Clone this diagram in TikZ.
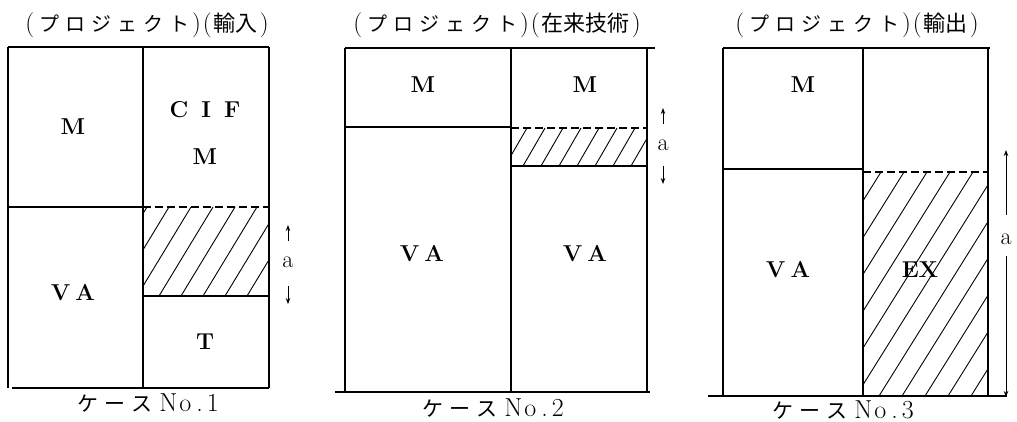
\documentclass[tikz,border=0pt]{standalone}
\usepackage{fontspec}
\newfontfamily\jp{Noto Sans CJK JP}
\usetikzlibrary{arrows.meta}
\begin{document}
\begin{tikzpicture}[x=1pt,y=-1pt,line width=1.1pt,
  lbl/.style={font=\fontsize{23}{26}\selectfont\bfseries,inner sep=0pt},
  small/.style={font=\fontsize{24}{26}\selectfont,inner sep=0pt},
  ttl/.style={inner sep=0pt},
  capt/.style={inner sep=0pt},
  hatch/.style={line width=0.9pt},
  divd/.style={dash pattern=on 8pt off 4pt},
  dim/.style={line width=0.9pt,-{Stealth[length=6pt,width=4.5pt]}}]
\useasboundingbox (0,0) rectangle (1017,422);
\newcommand{\casecap}[1]{{\jp\fontsize{21}{24}\selectfont ケ\kern6pt ー\kern6pt ス}\hspace{7pt}{\rmfamily\fontsize{26}{28}\selectfont N\kern2pt o\kern5pt .\kern4pt #1}}
\newcommand{\pl}{{\rmfamily\fontsize{25}{27}\selectfont(}}
\newcommand{\pr}{{\rmfamily\fontsize{25}{27}\selectfont)}}
\newcommand{\proj}{\pl\kern5pt{\jp\fontsize{20}{24}\selectfont プ\kern6pt ロ\kern6pt ジ\kern6pt ェ\kern6pt ク\kern6pt ト}\kern3pt\pr\kern2pt\pl\kern2pt}
\newcommand{\kj}[1]{{\jp\fontsize{22}{26}\selectfont #1}}

% ---------- titles ----------
\node[ttl] (t1) at (147,25) {\proj\kj{輸入}\kern2pt\pr};
\node[ttl] (t2) at (497,25) {\proj\kj{在来技術}\kern2pt\pr};
\node[ttl] (t3) at (857,25) {\proj\kj{輸出}\kern2pt\pr};

% ---------- case 1 ----------
\draw (8,47) -- (269,47);
\draw (12,388) -- (269,388);
\draw (8,47) -- (8,388);
\draw (143,47) -- (143,388);
\draw (269,47) -- (269,388);
\draw (8,207) -- (143,207);
\draw[divd] (143,207) -- (269,207);
\draw (143,296) -- (269,296);
\begin{scope}
  \clip (143,207) rectangle (269,296);
  \foreach \x in {93,115,...,290} \draw[hatch] (\x,296) -- ++(54,-89);
\end{scope}
\node[lbl] (m1a) at (73,127) {M};
\node[lbl] (cif) at (205,110) {C\hspace{13pt}I\hspace{13pt}F};
\node[lbl] (m1b) at (205,157) {M};
\node[lbl] (va1) at (73,293) {V\hspace{5pt}A};
\node[lbl] (t1b) at (205,342) {T};
\node[small] (a1) at (288,262) {a};
\coordinate (a1u0) at (288,241);
\coordinate (a1u1) at (288,225);
\coordinate (a1d0) at (288,286);
\coordinate (a1d1) at (288,304);
\draw[dim] (a1u0) -- (a1u1);
\draw[dim] (a1d0) -- (a1d1);
\node[capt] (c1) at (148,403) {\casecap{1}};

% ---------- case 2 ----------
\draw (345,48) -- (655,48);
\draw (335,392) -- (650,392);
\draw (345,48) -- (345,392);
\draw (511,48) -- (511,392);
\draw (647,48) -- (647,392);
\draw (345,127) -- (511,127);
\draw[divd] (511,128) -- (647,128);
\draw (511,166) -- (647,166);
\begin{scope}
  \clip (511,128) rectangle (647,166);
  \foreach \x in {487,505,...,660} \draw[hatch] (\x,166) -- ++(22,-38);
\end{scope}
\node[lbl] (m2a) at (423,85) {M};
\node[lbl] (m2b) at (585,85) {M};
\node[lbl] (va2a) at (422,254) {V\hspace{5pt}A};
\node[lbl] (va2b) at (585,254) {V\hspace{5pt}A};
\node[small] (a2) at (663,145) {a};
\coordinate (a2u0) at (663,124);
\coordinate (a2u1) at (663,108);
\coordinate (a2d0) at (663,166);
\coordinate (a2d1) at (663,184);
\draw[dim] (a2u0) -- (a2u1);
\draw[dim] (a2d0) -- (a2d1);
\node[capt] (c2) at (493,408) {\casecap{2}};

% ---------- case 3 ----------
\draw (723,48) -- (990,48);
\draw (708,396) -- (1007,396);
\draw (723,48) -- (723,396);
\draw (863,48) -- (863,396);
\draw (988,48) -- (988,396);
\draw (723,169) -- (863,169);
\draw[divd] (863,172) -- (988,172);
\begin{scope}
  \clip (863,172) rectangle (988,396);
  \foreach \x in {718,741,...,1000} \draw[hatch] (\x,396) -- ++(140,-224);
\end{scope}
\node[lbl] (m3) at (803,85) {M};
\node[lbl] (va3) at (788,270) {V\hspace{5pt}A};
\node[lbl] (ex) at (920,270) {EX};
\node[small] (a3) at (1006,239) {a};
\coordinate (a3u0) at (1006,215);
\coordinate (a3u1) at (1006,150);
\coordinate (a3d0) at (1006,256);
\coordinate (a3d1) at (1006,397);
\draw[dim] (a3u0) -- (a3u1);
\draw[dim] (a3d0) -- (a3d1);
\node[capt] (c3) at (843,410) {\casecap{3}};
\end{tikzpicture}
\end{document}
